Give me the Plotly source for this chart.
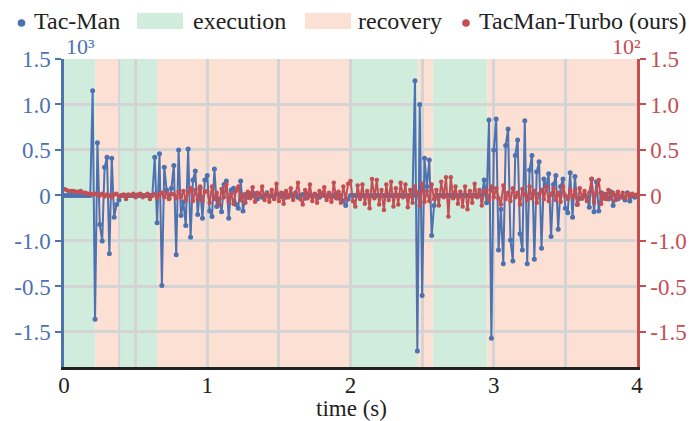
import plotly.graph_objects as go

SAMPLE_RATE = 60  # samples per second

# Tac-Man (left axis, x10^3)
tacman = [
    0, 0, 0, 0, 0, 0, 0, 0, 0, 0,
    0, 0, 1.15, -1.36, 0.58, -0.32, -0.50, 0.31, 0.42, -0.64,
    0.41, -0.24, -0.10, -0.05, 0, 0, 0, 0, 0, 0,
    0, 0, 0, 0, 0, 0, 0, 0, 0.42, -0.30,
    0.46, -0.99, 0.31, 0.06, -0.03, 0.08, 0.33, -0.65, 0.50, -0.22,
    -0.07, -0.33, 0.51, -0.46, 0.17, 0.27, -0.21, 0.08, -0.25, 0.17,
    0.22, -0.17, -0.23, 0.29, -0.12, -0.04, -0.18, 0.12, 0.16, -0.25,
    0.06, 0.08, -0.10, -0.14, 0.16, -0.17, 0.01, -0.02, 0.02, 0.00,
    0.02, -0.04, 0.01, -0.02, 0.00, 0.03, -0.01, 0.00, -0.03, 0.02,
    0.00, -0.01, 0.02, -0.02, 0.00, 0.01, -0.01, 0.03, -0.02, 0.00,
    0.01, -0.03, 0.02, 0.00, -0.01, 0.01, 0.00, -0.02, 0.02, 0.00,
    -0.01, 0.01, -0.02, 0.00, 0.02, -0.03, 0.00, -0.06, -0.11, -0.04,
    0, 0, 0, 0, 0, 0, 0, 0, 0, 0,
    0, 0, 0, 0, 0, 0, 0, 0, 0, 0,
    0, 0, 0, 0, 0, 0, 0, 1.26, -1.71, 1.00,
    -1.10, 0.41, 0.10, 0.39, -0.44, -0.11, 0, 0, 0, 0,
    0, 0, 0, 0, 0, 0, 0, 0, 0, 0,
    0, 0, 0, 0, 0, 0, 0.17, -0.08, 0.83, -1.57,
    0.50, 0.84, -0.60, -0.15, -0.75, 0.55, 0.73, -0.49, -0.72, 0.44,
    0.61, -0.42, -0.60, 0.82, -0.75, 0.28, 0.44, -0.70, 0.26, 0.37,
    -0.58, 0.18, 0.10, 0.24, -0.45, 0.12, 0.22, -0.37, 0.10, 0.18,
    -0.14, -0.19, 0.25, -0.24, 0.21, -0.10, -0.03, -0.03, 0.01, -0.02,
    -0.13, 0.18, -0.18, 0.15, -0.17, 0.03, -0.03, 0.01, -0.04, 0.04,
    -0.11, 0.00, -0.04, -0.01, -0.02, -0.05, 0.03, -0.06, 0.01, -0.02,
    -0.01,
]

# TacMan-Turbo (ours) (right axis, x10^2)
turbo = [
    0.07, 0.06, 0.05, 0.05, 0.05, 0.04, 0.04, 0.05, 0.03, 0.03,
    0.02, 0.02, 0.01, 0.02, 0.01, 0.00, 0.02, -0.01, 0.01, 0.00,
    -0.02, 0.01, 0.02, -0.01, 0.00, 0.01, -0.04, 0.01, 0.00, 0.02,
    -0.02, 0.01, 0.02, -0.02, 0.00, 0.02, -0.04, 0.00, 0.02, -0.03,
    0.01, 0.03, -0.02, 0.03, -0.04, 0.02, 0.01, -0.03, 0.04, -0.02,
    0.05, -0.05, 0.03, 0.08, -0.06, 0.06, -0.04, 0.10, -0.06, 0.04,
    0.05, -0.08, 0.10, -0.04, 0.03, -0.10, 0.07, -0.02, 0.12, -0.06,
    0.02, -0.09, 0.05, 0.10, -0.05, 0.01, -0.08, 0.04, -0.03, 0.09,
    -0.07, 0.03, 0.00, 0.10, -0.05, 0.02, -0.07, 0.06, -0.04, 0.13,
    -0.06, 0.03, -0.09, 0.05, -0.02, 0.08, -0.05, 0.02, 0.14, -0.04,
    -0.10, 0.06, -0.03, 0.12, -0.06, 0.02, -0.08, 0.05, 0.00, 0.09,
    -0.05, 0.03, -0.07, 0.14, -0.03, 0.04, -0.08, 0.10, -0.04, 0.13,
    0.16, -0.06, -0.12, 0.11, -0.04, 0.12, -0.09, 0.05, -0.14, 0.18,
    -0.03, 0.17, -0.10, 0.06, -0.16, 0.12, -0.05, 0.15, -0.12, 0.08,
    -0.10, 0.14, -0.02, 0.12, -0.13, 0.06, -0.08, 0.10, 0.03, -0.11,
    0.13, -0.07, 0.05, -0.06, 0.12, -0.04, 0.06, -0.11, 0.15, -0.02,
    0.20, -0.23, 0.20, -0.03, 0.10, -0.09, 0.04, -0.12, 0.10, -0.15,
    0.05, -0.08, 0.13, -0.02, 0.06, -0.11, 0.04, 0.06, -0.05, 0.10,
    -0.02, 0.08, -0.03, -0.10, 0.11, -0.04, 0.03, -0.06, 0.08, -0.02,
    0.03, -0.10, 0.07, 0.01, -0.05, 0.10, -0.03, 0.05, -0.08, 0.02,
    0.06, -0.04, 0.10, -0.06, 0.01, 0.08, -0.05, 0.03, -0.07, 0.10,
    0.00, -0.04, 0.06, -0.02, 0.05, -0.10, 0.08, -0.03, 0.05, -0.06,
    0.03, 0.18, -0.08, 0.03, 0.17, -0.09, 0.02, -0.04, 0.06, -0.03,
    0.03, -0.05, 0.04, -0.02, 0.03, -0.03, 0.02, -0.01, 0.02, 0.00,
    0.01,
]

t_tacman = [i / SAMPLE_RATE for i in range(len(tacman))]
t_turbo = [i / SAMPLE_RATE for i in range(len(turbo))]

execution_spans = [(0.0, 0.22), (0.385, 0.65), (2.0, 2.47), (2.575, 2.955)]
recovery_spans = [(0.22, 0.385), (0.65, 2.0), (2.47, 2.575), (2.955, 4.0)]

y_tickvals = [-1.5, -1.0, -0.5, 0, 0.5, 1.0, 1.5]
y_ticktext = ['-1.5', '-0.5', '-1.0', '0', '0.5', '1.0', '1.5']
x_tickvals = [0, 0.5, 1, 1.5, 2, 2.5, 3, 3.5, 4]
x_ticktext = ['0', '', '1', '', '2', '', '3', '', '4']

BLUE = '#4C72B0'
RED = '#C44E52'
GREEN_FILL = 'rgb(208,236,220)'
PINK_FILL = 'rgb(252,224,212)'
GRID = 'rgb(212,212,212)'
FONT = 'Liberation Serif'
INK = '#222222'

W, H = 699, 421
ML, MR, MT, MB = 64, 62, 59, 54
PW, PH = W - ML - MR, H - MT - MB


def px(x):
    return (x - ML) / PW


def py(y):
    return (H - MB - y) / PH


fig = go.Figure()
fig.add_trace(go.Scatter(
    x=t_tacman, y=tacman, name='Tac-Man', mode='lines+markers',
    line=dict(color=BLUE, width=2), marker=dict(size=5, color=BLUE),
    yaxis='y', showlegend=False))
fig.add_trace(go.Scatter(
    x=t_turbo, y=turbo, name='TacMan-Turbo (ours)', mode='lines+markers',
    line=dict(color=RED, width=2), marker=dict(size=4.5, color=RED),
    yaxis='y2', showlegend=False))

shapes = []
for a, b in execution_spans:
    shapes.append(dict(type='rect', xref='x', yref='paper', x0=a, x1=b, y0=0, y1=1,
                       fillcolor=GREEN_FILL, line=dict(width=0), layer='below'))
for a, b in recovery_spans:
    shapes.append(dict(type='rect', xref='x', yref='paper', x0=a, x1=b, y0=0, y1=1,
                       fillcolor=PINK_FILL, line=dict(width=0), layer='below'))
shapes.append(dict(type='line', xref='x', yref='paper', x0=0.385, x1=0.385, y0=0, y1=1,
                   line=dict(color=GRID, width=2), layer='below'))


def rect_px(x0, y0, x1, y1, color):
    return dict(type='rect', xref='paper', yref='paper', x0=px(x0), x1=px(x1),
                y0=py(y1), y1=py(y0), fillcolor=color, line=dict(width=0), layer='above')


def circ_px(cx, cy, r, color):
    return dict(type='circle', xref='paper', yref='paper', x0=px(cx - r), x1=px(cx + r),
                y0=py(cy + r), y1=py(cy - r), fillcolor=color, line=dict(width=0), layer='above')


shapes += [
    circ_px(21.5, 23, 3.8, BLUE),
    rect_px(137, 13, 183, 29, GREEN_FILL),
    rect_px(305, 13, 351, 29, PINK_FILL),
    circ_px(466, 23, 3.8, RED),
]

legend_texts = [(32, 'Tac-Man'), (191, 'execution'), (356, 'recovery'), (477, 'TacMan-Turbo (ours)')]
annotations = []
for x, txt in legend_texts:
    annotations.append(dict(xref='paper', yref='paper', x=px(x), y=py(21), text=txt,
                            showarrow=False, xanchor='left', yanchor='middle',
                            font=dict(family=FONT, size=24, color=INK)))
annotations.append(dict(xref='paper', yref='paper', x=px(64), y=py(46), text='10³',
                        showarrow=False, xanchor='left', yanchor='middle',
                        font=dict(family=FONT, size=22, color=BLUE)))
annotations.append(dict(xref='paper', yref='paper', x=px(643), y=py(46), text='10²',
                        showarrow=False, xanchor='right', yanchor='middle',
                        font=dict(family=FONT, size=22, color=RED)))
annotations.append(dict(xref='paper', yref='paper', x=px(351), y=py(409), text='time (s)',
                        showarrow=False, xanchor='center', yanchor='middle',
                        font=dict(family=FONT, size=23, color=INK)))

fig.update_layout(
    width=W, height=H,
    margin=dict(l=ML, r=MR, t=MT, b=MB),
    paper_bgcolor='white', plot_bgcolor='white',
    font=dict(family=FONT, size=22, color=INK),
    shapes=shapes, annotations=annotations,
    xaxis=dict(range=[0, 4], tickvals=x_tickvals, ticktext=x_ticktext,
               showgrid=True, gridcolor=GRID, gridwidth=2.5, zeroline=False,
               showline=True, linecolor=INK, linewidth=3, ticks='', ticklen=0,
               ticklabelstandoff=-5, automargin=False,
               tickfont=dict(family=FONT, size=23, color=INK)),
    yaxis=dict(range=[-1.885, 1.5], tickvals=y_tickvals, ticktext=y_ticktext,
               showgrid=True, gridcolor=GRID, gridwidth=2.5, zeroline=False,
               showline=True, linecolor=BLUE, linewidth=2.5, ticks='outside',
               ticklen=6, tickwidth=2, tickcolor=BLUE, automargin=False,
               tickfont=dict(family=FONT, size=23, color=BLUE)),
    yaxis2=dict(range=[-1.885, 1.5], tickvals=y_tickvals, ticktext=y_ticktext,
                overlaying='y', side='right', showgrid=False, zeroline=False,
                showline=True, linecolor=RED, linewidth=2.5, ticks='outside',
                ticklen=6, tickwidth=2, tickcolor=RED, automargin=False,
                tickfont=dict(family=FONT, size=23, color=RED)),
)

fig.write_html('out.html')
